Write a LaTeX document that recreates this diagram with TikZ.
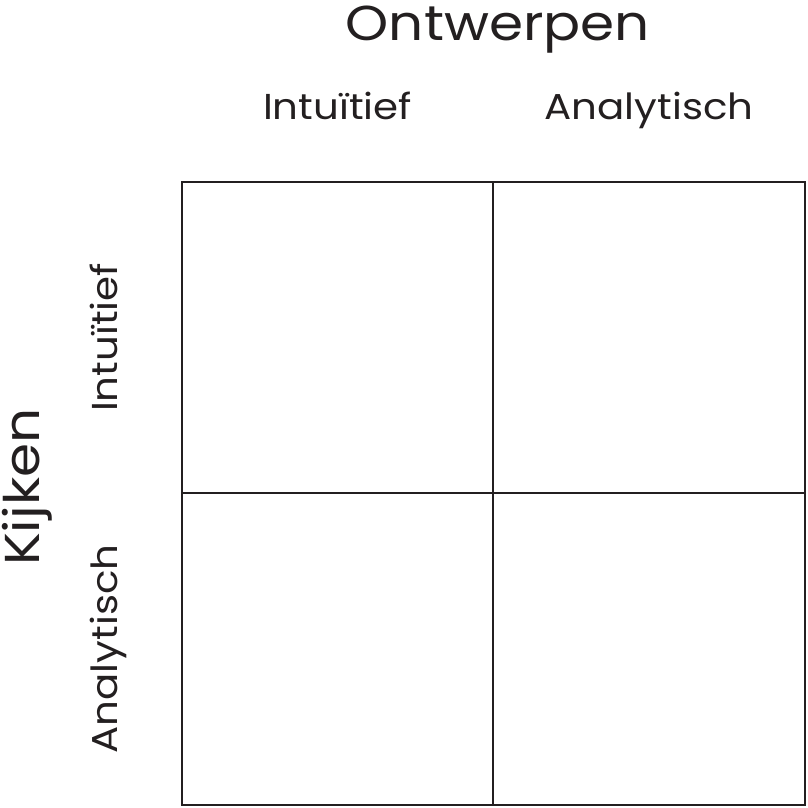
\documentclass[tikz,border=0pt]{standalone}
\usepackage{fontspec}
\usepackage{tikz}
\usetikzlibrary{positioning,calc}
\newfontfamily\gridfont[FakeStretch=1.12]{Poppins}
\definecolor{inkgray}{RGB}{35, 31, 32}

\begin{document}
\begin{tikzpicture}[node distance=0pt, x=1pt, y=1pt,
			cell/.style={draw=inkgray, rectangle, line width=2.3pt, minimum width=311.5pt, minimum height=311.5pt, inner sep=0pt, outer sep=0pt},
			sublabel/.style={draw=none, inner sep=0pt, anchor=base, text=inkgray, font=\gridfont\fontsize{36}{40}\selectfont},
			mainlabel/.style={draw=none, inner sep=0pt, anchor=base, text=inkgray, font=\gridfont\fontsize{49}{54}\selectfont}
			]
			\useasboundingbox (0,0) rectangle (807,808);
			\node[cell](c11) at (337.5, 470.5) {};
			\node[cell](c12) [right = of c11] {};
			\node[cell](c21) [below = of c11] {};
			\node[cell](c22) [right = of c21] {};
			
			\node[sublabel](ointu) at ([yshift=62pt]c11.north) {Intuïtief};
			\node[sublabel](oanal) at ([yshift=62pt]c12.north) {Analytisch};
			\node[mainlabel](ontw) at ([xshift=4.5pt, yshift=141pt]c11.north east) {Ontwerpen};
			
			\node[sublabel, rotate=90](kintu) at ([xshift=-64pt]c11.west) {Intuïtief};
			\node[sublabel, rotate=90](kanal) at ([xshift=-64pt]c21.west) {Analytisch};
			\node[mainlabel, rotate=90](kijk) at ([xshift=-142pt, yshift=6pt]c11.south west) {Kijken};
\end{tikzpicture}
\end{document}
